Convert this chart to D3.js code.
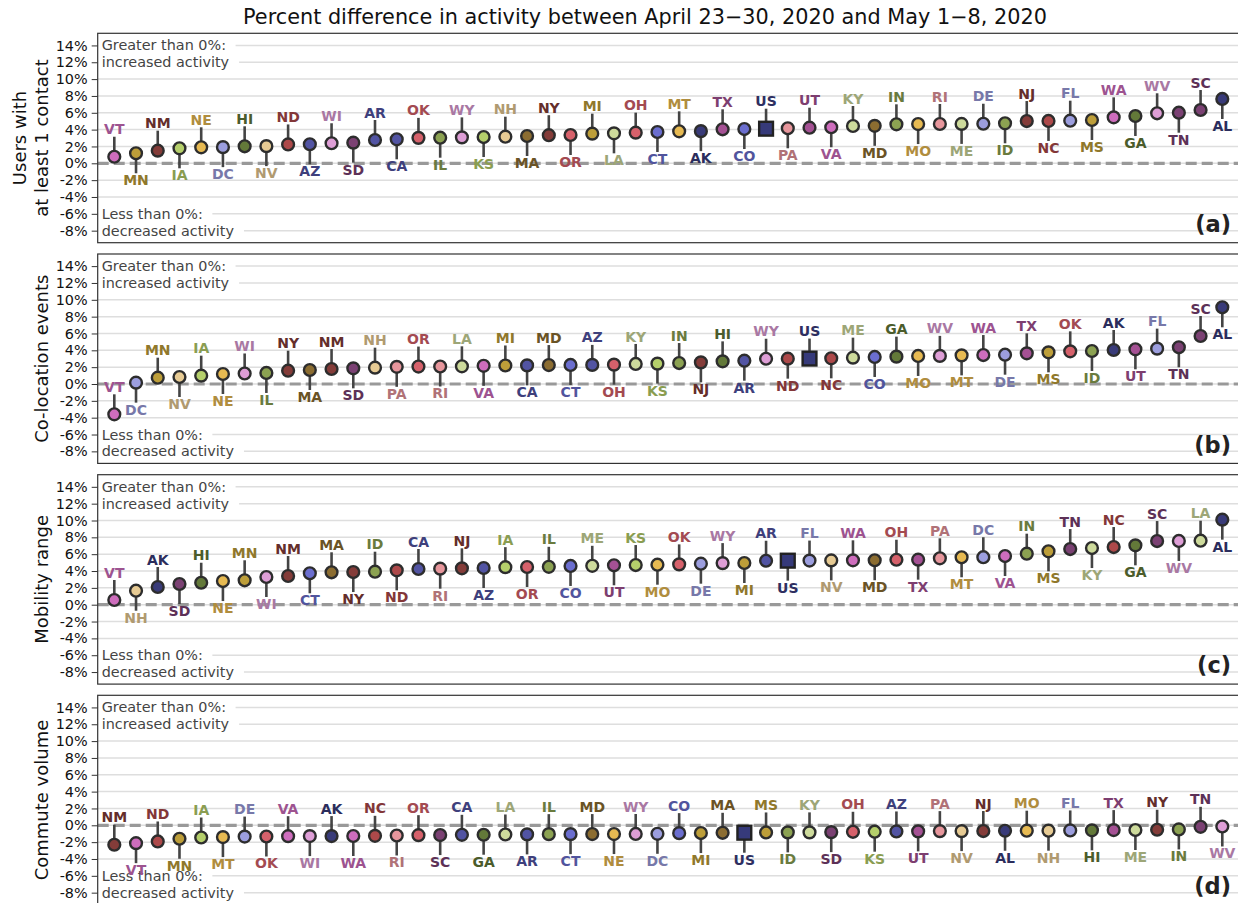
<!DOCTYPE html>
<html><head><meta charset="utf-8">
<script src="https://cdn.jsdelivr.net/npm/d3@7"></script>
<style>
html,body{margin:0;padding:0;background:#fff;}
svg{display:block;font-family:"DejaVu Sans",sans-serif;}
</style></head>
<body><svg id="chart" width="1238" height="903"></svg>
<script>
// ---------------- DATA ----------------
const chartTitle = "Percent difference in activity between April 23\u221230, 2020 and May 1\u22128, 2020";
const yTicks = [-8,-6,-4,-2,0,2,4,6,8,10,12,14];

const panelTitles = [["Users with","at least 1 contact"],["Co-location events"],["Mobility range"],["Commute volume"]];
const panelLetters = ["(a)","(b)","(c)","(d)"];

const statesA = ["VT","MN","NM","IA","NE","DC","HI","NV","ND","AZ","WI","SD","AR","CA","OK","IL","WY","KS","NH","MA","NY","OR","MI","LA","OH","CT","MT","AK","TX","CO","US","PA","UT","VA","KY","MD","IN","MO","RI","ME","DE","ID","NJ","NC","FL","MS","WA","GA","WV","TN","SC","AL"];
const valuesA = [0.78,1.19,1.50,1.78,1.90,1.92,2.02,2.04,2.24,2.26,2.38,2.45,2.77,2.85,3.02,3.04,3.08,3.12,3.16,3.24,3.34,3.36,3.52,3.56,3.64,3.72,3.80,3.82,4.04,4.07,4.11,4.16,4.23,4.28,4.43,4.45,4.63,4.66,4.67,4.68,4.70,4.75,5.02,5.03,5.06,5.14,5.46,5.62,5.94,6.01,6.33,7.64];

const statesB = ["VT","DC","MN","NV","IA","NE","WI","IL","NY","MA","NM","SD","NH","PA","OR","RI","LA","VA","MI","CA","MD","CT","AZ","OH","KY","KS","IN","NJ","HI","AR","WY","ND","US","NC","ME","CO","GA","MO","WV","MT","WA","DE","TX","MS","OK","ID","AK","UT","FL","TN","SC","AL"];
const valuesB = [-3.60,0.16,0.75,0.83,0.99,1.19,1.25,1.31,1.58,1.66,1.78,1.86,1.94,2.04,2.07,2.08,2.10,2.16,2.20,2.21,2.25,2.26,2.27,2.30,2.38,2.42,2.49,2.57,2.69,2.77,3.00,3.01,3.02,3.05,3.13,3.21,3.25,3.33,3.34,3.40,3.44,3.48,3.64,3.76,3.88,3.92,4.04,4.12,4.20,4.36,5.70,9.11];

const statesC = ["VT","NH","AK","SD","HI","NE","MN","WI","NM","CT","MA","NY","ID","ND","CA","RI","NJ","AZ","IA","OR","IL","CO","ME","UT","KS","MO","OK","DE","WY","MI","AR","US","FL","NV","WA","MD","OH","TX","PA","MT","DC","VA","IN","MS","TN","KY","NC","GA","SC","WV","LA","AL"];
const valuesC = [0.56,1.66,2.10,2.46,2.61,2.81,2.90,3.29,3.41,3.73,3.85,3.88,3.92,4.08,4.24,4.28,4.32,4.36,4.46,4.48,4.50,4.60,4.62,4.68,4.71,4.75,4.79,4.87,4.94,4.95,5.22,5.23,5.24,5.26,5.27,5.28,5.34,5.35,5.51,5.63,5.64,5.78,6.06,6.34,6.61,6.73,6.85,7.05,7.56,7.57,7.60,10.10];

const statesD = ["NM","VT","ND","MN","IA","MT","DE","OK","VA","WI","AK","WA","NC","RI","OR","SC","CA","GA","LA","AR","IL","CT","MD","NE","WY","DC","CO","MI","MA","US","MS","ID","KY","SD","OH","KS","AZ","UT","PA","NV","NJ","AL","MO","NH","FL","HI","TX","ME","NY","IN","TN","WV"];
const valuesD = [-2.31,-2.12,-1.92,-1.60,-1.45,-1.40,-1.34,-1.33,-1.29,-1.28,-1.28,-1.27,-1.25,-1.21,-1.17,-1.16,-1.13,-1.12,-1.09,-1.08,-1.05,-1.05,-1.04,-1.04,-1.03,-1.01,-0.93,-0.92,-0.89,-0.88,-0.85,-0.84,-0.84,-0.81,-0.77,-0.76,-0.73,-0.72,-0.69,-0.69,-0.68,-0.65,-0.64,-0.64,-0.61,-0.60,-0.57,-0.56,-0.53,-0.49,-0.18,-0.14];

// colour group (tab20b index) for each state
const palette = ["#393b79","#5254a3","#6b6ecf","#9c9ede","#637939","#8ca252","#b5cf6b","#cedb9c","#8c6d31","#bd9e39","#e7ba52","#e7cb94","#843c39","#ad494a","#d6616b","#e7969c","#7b4173","#a55194","#ce6dbd","#de9ed6"];
const colorGroup = {AL:0,AK:0,US:0,AZ:1,AR:1,CA:1,CO:2,CT:2,DE:3,DC:3,FL:3,GA:4,HI:4,ID:5,IL:5,IN:5,IA:6,KS:6,KY:7,LA:7,ME:7,MD:8,MA:8,MI:9,MN:9,MS:9,MO:10,MT:10,NE:10,NV:11,NH:11,NJ:12,NM:12,NY:12,NC:13,ND:13,OH:14,OK:14,OR:14,PA:15,RI:15,SC:16,SD:16,TN:16,TX:17,UT:17,VT:18,VA:18,WA:18,WV:19,WI:19,WY:19};

const panels = [
  {states: statesA, values: valuesA},
  {states: statesB, values: valuesB},
  {states: statesC, values: valuesC},
  {states: statesD, values: valuesD}
];

// ---------------- LAYOUT ----------------
const svg = d3.select("#chart");
const plotLeft = 97.7, plotRight = 1239;
const panelTops = [33.3, 254.0, 474.7, 695.3];
const panelH = 209.4;

function darken(c, k) {
  const r = d3.rgb(c);
  return d3.rgb(r.r*k, r.g*k, r.b*k).formatHex();
}

svg.append("text")
  .attr("x", 645).attr("y", 24)
  .attr("text-anchor", "middle")
  .attr("font-size", 20.8).attr("fill", "#111")
  .text(chartTitle);

panels.forEach((p, pi) => {
  const top = panelTops[pi];
  const g = svg.append("g");
  const x = d3.scalePoint().domain(p.states).range([114.3, 1222.3]);
  const y = d3.scaleLinear().domain([-9.43, 15.44]).range([top + panelH, top]);

  // grid
  g.append("g").selectAll("line").data(yTicks).join("line")
    .attr("x1", plotLeft).attr("x2", plotRight)
    .attr("y1", d => y(d)).attr("y2", d => y(d))
    .attr("stroke", "#dedede").attr("stroke-width", 1.5);

  // annotations with white boxes
  const notes = [
    {t: "Greater than 0%:", v: 14}, {t: "increased activity", v: 12},
    {t: "Less than 0%:", v: -6}, {t: "decreased activity", v: -8}
  ];
  notes.forEach(n => {
    const bg = g.append("rect");
    const tx = g.append("text")
      .attr("x", 101.7).attr("y", y(n.v) + 5)
      .attr("font-size", 14.4).attr("fill", "#444")
      .text(n.t);
    const bb = tx.node().getBBox();
    bg.attr("x", plotLeft + 0.5).attr("y", y(n.v) - 7)
      .attr("width", bb.x + bb.width + 9 - plotLeft).attr("height", 14)
      .attr("fill", "#fff");
  });

  // zero line
  g.append("line")
    .attr("x1", plotLeft).attr("x2", plotRight)
    .attr("y1", y(0)).attr("y2", y(0))
    .attr("stroke", "#999").attr("stroke-width", 3.2)
    .attr("stroke-dasharray", "11,5");

  // axis
  const ax = g.append("g").attr("transform", `translate(${plotLeft},0)`)
    .call(d3.axisLeft(y).tickValues(yTicks).tickFormat(d => d + "%").tickSize(6).tickPadding(4));
  ax.select(".domain").remove();
  ax.selectAll(".tick line").attr("stroke", "#333").attr("stroke-width", 1);
  ax.selectAll(".tick text").attr("font-size", 14.4).attr("fill", "#111")
    .attr("font-family", "DejaVu Sans");

  // stems
  const data = p.states.map((s, i) => ({s, v: p.values[i], i}));
  const stemLen = 20;
  g.append("g").selectAll("line").data(data).join("line")
    .attr("x1", d => x(d.s)).attr("x2", d => x(d.s))
    .attr("y1", d => y(d.v))
    .attr("y2", d => d.i % 2 === 0 ? y(d.v) - stemLen : y(d.v) + stemLen)
    .attr("stroke", "#444").attr("stroke-width", 2.6);

  // markers
  const mk = g.append("g");
  mk.selectAll("circle").data(data.filter(d => d.s !== "US")).join("circle")
    .attr("cx", d => x(d.s)).attr("cy", d => y(d.v)).attr("r", 5.9)
    .attr("fill", d => palette[colorGroup[d.s]])
    .attr("stroke", "#2d2d2d").attr("stroke-width", 2.4);
  mk.selectAll("rect").data(data.filter(d => d.s === "US")).join("rect")
    .attr("x", d => x(d.s) - 6.9).attr("y", d => y(d.v) - 6.9)
    .attr("width", 13.8).attr("height", 13.8)
    .attr("fill", "#363a7a")
    .attr("stroke", "#222").attr("stroke-width", 2.4);

  // state labels
  g.append("g").selectAll("text").data(data).join("text")
    .attr("x", d => x(d.s))
    .attr("y", d => d.i % 2 === 0 ? y(d.v) - stemLen - 2.4 : y(d.v) + stemLen + 12)
    .attr("text-anchor", "middle")
    .attr("font-size", 14).attr("font-weight", "bold")
    .attr("fill", d => darken(palette[colorGroup[d.s]], d.s === "US" ? 0.8 : 0.76))
    .text(d => d.s);

  // frame
  g.append("rect")
    .attr("x", plotLeft).attr("y", top)
    .attr("width", plotRight - plotLeft).attr("height", panelH)
    .attr("fill", "none").attr("stroke", "#333").attr("stroke-width", 1.2);

  // panel letter
  g.append("text")
    .attr("x", 1231).attr("y", top + 198.5)
    .attr("text-anchor", "end")
    .attr("font-size", 22.5).attr("font-weight", "bold").attr("fill", "#222")
    .text(panelLetters[pi]);

  // y title
  const lines = panelTitles[pi];
  const cy = top + panelH / 2;
  const xs = lines.length === 2 ? [20, 41.5] : [41.5];
  lines.forEach((ln, li) => {
    g.append("text")
      .attr("transform", `translate(${xs[li]},${cy}) rotate(-90)`)
      .attr("dy", "0.36em")
      .attr("text-anchor", "middle")
      .attr("font-size", 18).attr("fill", "#111")
      .text(ln);
  });
});
</script>
</body></html>
